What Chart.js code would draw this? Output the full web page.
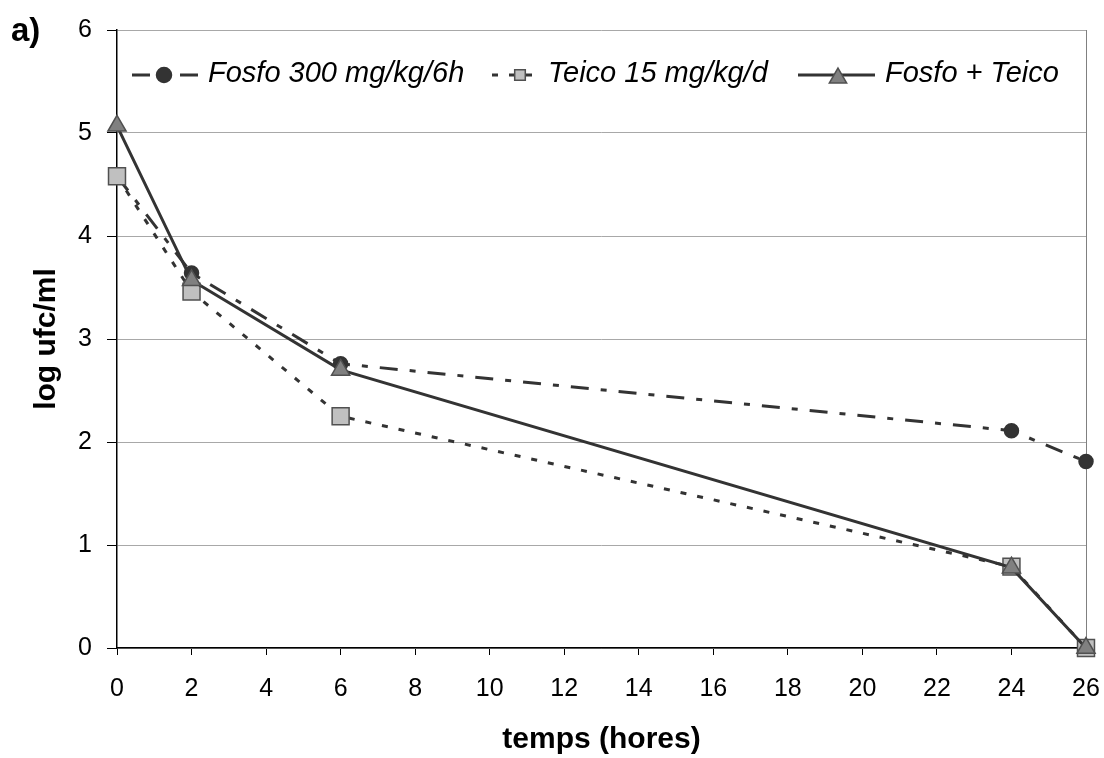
<!DOCTYPE html>
<html><head><meta charset="utf-8">
<script src="https://cdn.jsdelivr.net/npm/chart.js@4/dist/chart.umd.min.js"></script>
<style>html,body{margin:0;padding:0;background:#fff}</style>
</head><body>
<canvas id="c" width="1104" height="758"></canvas>
<script>
// ---- data ----
const hours = [0, 2, 6, 24, 26];
const fosfo = [4.58, 3.64, 2.76, 2.11, 1.81];
const teico = [4.58, 3.46, 2.25, 0.79, 0];
const fosfoTeico = [5.07, 3.57, 2.70, 0.78, 0];
const seriesNames = ['Fosfo 300 mg/kg/6h', 'Teico 15 mg/kg/d', 'Fosfo + Teico'];
const xTicks = [0, 2, 4, 6, 8, 10, 12, 14, 16, 18, 20, 22, 24, 26];
const yTicks = [0, 1, 2, 3, 4, 5, 6];
const panelLabel = 'a)';
const xTitle = 'temps (hores)';
const yTitle = 'log ufc/ml';

const FONT = '"Liberation Sans", Arial, sans-serif';
const toPts = (vals) => hours.map((h, i) => ({x: h, y: vals[i]}));

const styles = [
  {borderColor:'#333333', borderDash:[18,12,6,12], pointStyle:'circle', pointRadius:7, pointBackgroundColor:'#333333', pointBorderColor:'#333333', order:2},
  {borderColor:'#333333', borderDash:[6,11], pointStyle:'rect', pointRadius:12, pointBackgroundColor:'#c0c0c0', pointBorderColor:'#505050', order:1},
  {borderColor:'#333333', borderDash:[], pointStyle:'triangle', pointRadius:10.5, pointBackgroundColor:'#808080', pointBorderColor:'#505050', order:0}
];
const seriesData = [fosfo, teico, fosfoTeico];

const datasets = seriesData.map((vals, i) => Object.assign({
  label: seriesNames[i],
  data: toPts(vals),
  borderWidth: 3,
  pointBorderWidth: 1.5,
  pointHoverRadius: styles[i].pointRadius,
  tension: 0,
  clip: false,
  borderCapStyle: 'butt'
}, styles[i]));

const legendPos = [
  {x0:132, x1:198, mx:164, tx:208},
  {x0:492, x1:542, mx:520, tx:548},
  {x0:798, x1:875, mx:838, tx:885}
];

const extras = {
  id: 'extras',
  beforeDatasetsDraw(chart) {
    const ctx = chart.ctx, a = chart.chartArea;
    ctx.save();
    ctx.strokeStyle = '#808080';
    ctx.lineWidth = 1;
    ctx.beginPath();
    ctx.moveTo(Math.round(a.right) + 0.5, a.top);
    ctx.lineTo(Math.round(a.right) + 0.5, a.bottom);
    ctx.stroke();
    ctx.restore();
  },
  afterDatasetsDraw(chart) {
    const ctx = chart.ctx;
    ctx.save();
    ctx.fillStyle = '#000';
    ctx.font = 'bold 33px ' + FONT;
    ctx.textBaseline = 'alphabetic';
    ctx.textAlign = 'left';
    ctx.fillText(panelLabel, 11, 41);
    const ly = 75;
    datasets.forEach((ds, i) => {
      const p = legendPos[i];
      ctx.save();
      ctx.strokeStyle = ds.borderColor;
      ctx.lineWidth = 3;
      ctx.setLineDash(ds.borderDash);
      ctx.beginPath();
      ctx.moveTo(p.x0, ly);
      ctx.lineTo(p.x1, ly);
      ctx.stroke();
      ctx.restore();
      ctx.save();
      ctx.fillStyle = ds.pointBackgroundColor;
      ctx.strokeStyle = ds.pointBorderColor;
      ctx.lineWidth = 1.5;
      ctx.setLineDash([]);
      const r = ds.pointStyle === 'rect' ? 7.5 : (ds.pointStyle === 'triangle' ? 10 : 7.5);
      Chart.helpers.drawPoint(ctx, {pointStyle: ds.pointStyle, radius: r, rotation: 0, borderWidth: 1.5}, p.mx, ds.pointStyle === 'triangle' ? ly + 3 : ly);
      ctx.restore();
      ctx.fillStyle = '#000';
      ctx.font = 'italic 29px ' + FONT;
      ctx.textBaseline = 'alphabetic';
      ctx.fillText(ds.label, p.tx, 82);
    });
    ctx.restore();
  }
};

new Chart(document.getElementById('c'), {
  type: 'line',
  data: { datasets },
  options: {
    responsive: false,
    animation: false,
    devicePixelRatio: 1,
    layout: { padding: { top: 30, right: 18, left: 0, bottom: 0 } },
    plugins: { legend: { display: false }, tooltip: { enabled: false } },
    scales: {
      x: {
        type: 'linear', min: 0, max: 26,
        afterBuildTicks: (s) => { s.ticks = xTicks.map(v => ({value: v})); },
        afterFit: (s) => { s.height = 110; s.paddingRight = 0; s.paddingLeft = 0; },
        grid: { drawOnChartArea: false, drawTicks: true, tickLength: 7, tickColor: '#000', tickWidth: 1 },
        border: { display: true, color: '#000', width: 1.5 },
        ticks: { color: '#000', font: { family: FONT, size: 25 }, padding: 19, maxRotation: 0, autoSkip: false },
        title: { display: true, text: xTitle, color: '#000', font: { family: FONT, size: 30, weight: 'bold' }, padding: { top: 1, bottom: 0 } }
      },
      y: {
        type: 'linear', min: 0, max: 6,
        afterBuildTicks: (s) => { s.ticks = yTicks.map(v => ({value: v})); },
        afterFit: (s) => { s.width = 117; s.paddingTop = 0; s.paddingBottom = 0; },
        grid: { color: '#a8a8a8', lineWidth: 1, drawTicks: true, tickLength: 10, tickColor: '#000' },
        border: { display: true, color: '#000', width: 1.5 },
        ticks: { color: '#000', font: { family: FONT, size: 25 }, padding: 15 },
        title: { display: true, text: yTitle, color: '#000', font: { family: FONT, size: 30, weight: 'bold' }, padding: { top: 29, bottom: 0 } }
      }
    }
  },
  plugins: [extras]
});
</script>
</body></html>
